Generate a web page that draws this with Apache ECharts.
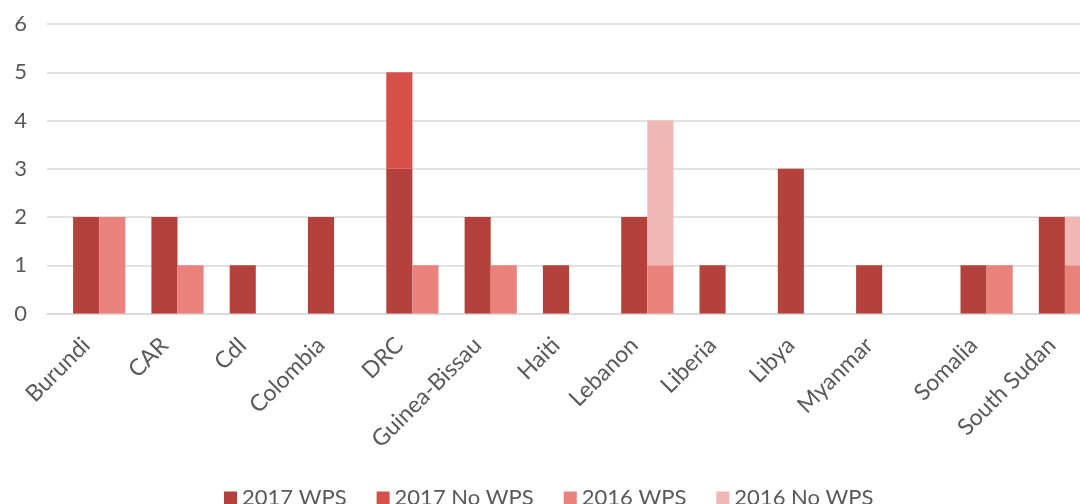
<!DOCTYPE html>
<html>
<head>
<meta charset="utf-8">
<script src="https://cdn.jsdelivr.net/npm/echarts@6/dist/echarts.min.js"></script>
<style>
  html, body { margin: 0; padding: 0; background: #fff; }
  #panel { width: 1080px; height: 504px; }
</style>
</head>
<body>
<div id="panel"></div>
<script>
// mandates per country, 2017 vs 2016
var countries = ['Burundi', 'CAR', 'CdI', 'Colombia', 'DRC', 'Guinea-Bissau', 'Haiti',
                 'Lebanon', 'Liberia', 'Libya', 'Myanmar', 'Somalia', 'South Sudan'];
var wps2017   = [2, 2, 1, 2, 3, 2, 1, 2, 1, 3, 1, 1, 2];
var noWps2017 = [0, 0, 0, 0, 2, 0, 0, 0, 0, 0, 0, 0, 0];
var wps2016   = [2, 1, 0, 0, 1, 1, 0, 1, 0, 0, 0, 1, 1];
var noWps2016 = [0, 0, 0, 0, 0, 0, 0, 3, 0, 0, 0, 0, 1];
var seriesNames = ['2017 WPS', '2017 No WPS', '2016 WPS', '2016 No WPS'];
var yTicks = [0, 1, 2, 3, 4, 5, 6];
// the source sheet has one extra empty row before this country
var extraGapBefore = ['Somalia'];

// one slot per sheet row: gap, 2017 bar, 2016 bar
var slots = [];
var slot2017 = [];
var slot2016 = [];
countries.forEach(function (c, i) {
    if (extraGapBefore.indexOf(c) >= 0) slots.push('gap-extra-' + i);
    slots.push('gap-' + i);
    slot2017.push(slots.length); slots.push(c + '|2017');
    slot2016.push(slots.length); slots.push(c + '|2016');
});

function spread(values, where) {
    var out = slots.map(function () { return null; });
    values.forEach(function (v, i) { out[where[i]] = v; });
    return out;
}

var colors = ['#b5413c', '#d8504a', '#e9827d', '#f1b7b4'];
var font = 'Lato, "Open Sans", sans-serif';

function test() {
    var myChart = echarts.init(document.getElementById('panel'));
    var sources = [[wps2017, slot2017], [noWps2017, slot2017], [wps2016, slot2016], [noWps2016, slot2016]];
    myChart.setOption({
        backgroundColor: '#ffffff',
        animation: false,
        color: colors,
        // plot area runs past the right edge of the picture
        grid: { left: 47, width: 1044, top: 24, bottom: 190.5, outerBoundsMode: 'none' },
        legend: {
            data: seriesNames,
            left: 219,
            top: 482,
            icon: 'rect',
            itemWidth: 13,
            itemHeight: 13,
            itemGap: 30,
            textStyle: { fontFamily: font, fontSize: 22, color: '#595959' }
        },
        xAxis: {
            type: 'category',
            data: slots,
            axisTick: { show: false },
            axisLine: { lineStyle: { color: '#d9d9d9', width: 1.5 } },
            axisLabel: {
                interval: 0,
                rotate: 45,
                margin: 28,
                fontFamily: font,
                fontSize: 23,
                color: '#595959',
                formatter: function (v) {
                    return v.indexOf('|2017') > 0 ? v.split('|')[0] : '';
                }
            }
        },
        yAxis: {
            type: 'value',
            min: yTicks[0],
            max: yTicks[yTicks.length - 1],
            interval: 1,
            axisLine: { show: false },
            axisTick: { show: false },
            splitLine: { lineStyle: { color: '#d9d9d9', width: 1.5 } },
            axisLabel: { margin: 20, fontFamily: font, fontSize: 22, color: '#595959' }
        },
        series: seriesNames.map(function (name, k) {
            return {
                name: name,
                type: 'bar',
                stack: 'all',
                barCategoryGap: '0%',
                data: spread(sources[k][0], sources[k][1])
            };
        })
    });
}
test();
</script>
</body>
</html>
